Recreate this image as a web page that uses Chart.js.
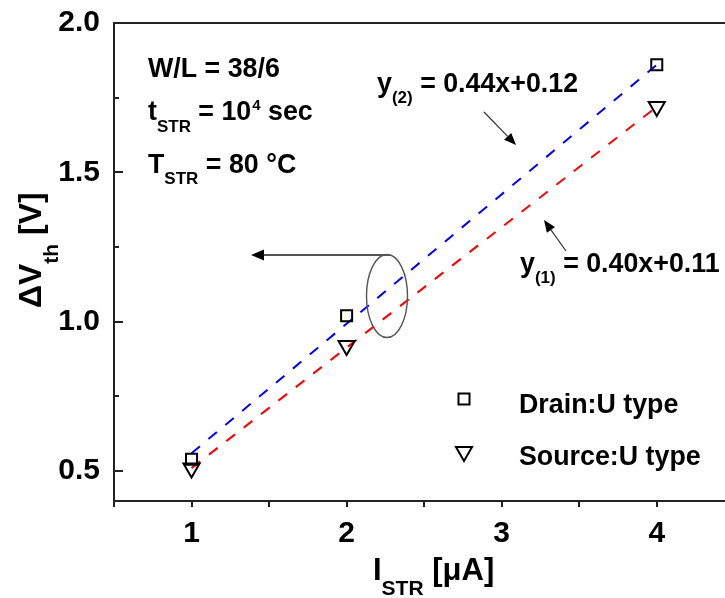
<!DOCTYPE html>
<html>
<head>
<meta charset="utf-8">
<script src="https://cdn.jsdelivr.net/npm/chart.js@4"></script>
<style>
  html, body { margin: 0; padding: 0; background: #fff; overflow: hidden; }
  #wrap { width: 725px; height: 598px; }
</style>
</head>
<body>
<div id="wrap"><canvas id="c" width="725" height="598"></canvas></div>
<script>
// ---- data ----
const xValues = [1, 2, 4];                 // I_STR [µA]
const drainValues = [0.54, 1.02, 1.86];    // ΔVth, Drain:U type
const sourceValues = [0.51, 0.92, 1.72];   // ΔVth, Source:U type
const fitX = [1, 4];
const drainFit = [0.56, 1.86];             // blue dashed fit y(2)
const sourceFit = [0.51, 1.72];            // red dashed fit y(1)
const xMajorTicks = [1, 2, 3, 4];
const xMinorTicks = [0.5, 1.5, 2.5, 3.5];
const yMajorTicks = [0.5, 1.0, 1.5, 2.0];
const yMinorTicks = [0.75, 1.25, 1.75];
const seriesNames = ['Drain:U type', 'Source:U type'];

const FF = "'Liberation Sans', Arial, Helvetica, sans-serif";
const AF = 26.8; // annotation font size
const pts = (xs, ys) => xs.map((x, i) => ({ x: x, y: ys[i] }));

function rich(ctx, x, y, runs) {
  let cx = x;
  for (const r of runs) {
    ctx.font = 'bold ' + r.size + 'px ' + FF;
    ctx.fillText(r.t, cx, y + (r.dy || 0));
    cx += ctx.measureText(r.t).width;
  }
  return cx;
}
function arrow(ctx, x1, y1, x2, y2, color, lw, hl, hw) {
  ctx.save();
  ctx.strokeStyle = color; ctx.lineWidth = lw;
  const a = Math.atan2(y2 - y1, x2 - x1);
  const bx = x2 - Math.cos(a) * hl, by = y2 - Math.sin(a) * hl;
  ctx.beginPath(); ctx.moveTo(x1, y1); ctx.lineTo(bx, by); ctx.stroke();
  ctx.fillStyle = '#000';
  ctx.beginPath();
  ctx.moveTo(x2, y2);
  ctx.lineTo(bx + Math.sin(a) * hw, by - Math.cos(a) * hw);
  ctx.lineTo(bx - Math.sin(a) * hw, by + Math.cos(a) * hw);
  ctx.closePath(); ctx.fill();
  ctx.restore();
}

const decor = {
  id: 'decor',
  afterDraw(chart) {
    const ctx = chart.ctx;
    const ca = chart.chartArea;
    const ys = chart.scales.y;
    ctx.save();
    // top frame line
    ctx.strokeStyle = '#222'; ctx.lineWidth = 2;
    ctx.beginPath(); ctx.moveTo(ca.left, ca.top); ctx.lineTo(ca.right, ca.top); ctx.stroke();
    // inward y ticks
    ctx.lineWidth = 2;
    yMajorTicks.forEach(v => {
      const p = Math.round(ys.getPixelForValue(v));
      ctx.beginPath(); ctx.moveTo(ca.left, p); ctx.lineTo(ca.left + 9, p); ctx.stroke();
    });
    yMinorTicks.forEach(v => {
      const p = Math.round(ys.getPixelForValue(v));
      ctx.beginPath(); ctx.moveTo(ca.left, p); ctx.lineTo(ca.left + 5, p); ctx.stroke();
    });

    ctx.fillStyle = '#000';
    ctx.textAlign = 'left';
    ctx.textBaseline = 'alphabetic';
    // condition annotations
    rich(ctx, 148, 77, [{ t: 'W/L = 38/6', size: AF }]);
    let e = rich(ctx, 148, 120, [{ t: 't', size: AF }, { t: 'STR', size: 17, dy: 12 }, { t: ' = 10', size: AF }]);
    e = rich(ctx, e + 1, 120, [{ t: '4', size: 15, dy: -10 }]);
    rich(ctx, e, 120, [{ t: ' sec', size: AF }]);
    rich(ctx, 148, 173, [{ t: 'T', size: AF }, { t: 'STR', size: 17, dy: 11 }, { t: ' = 80 \u00B0C', size: AF }]);

    // fit equations
    rich(ctx, 377, 92, [{ t: 'y', size: AF }, { t: '(2)', size: 17, dy: 11 }, { t: ' = 0.44x+0.12', size: AF }]);
    rich(ctx, 520, 272, [{ t: 'y', size: AF }, { t: '(1)', size: 17, dy: 11 }, { t: ' = 0.40x+0.11', size: AF }]);

    // arrows to the fit lines
    arrow(ctx, 484, 112, 516, 145, '#333', 1.2, 12, 5);
    arrow(ctx, 566, 251, 544, 220, '#333', 1.2, 12, 5);

    // ellipse + left arrow
    ctx.strokeStyle = '#555'; ctx.lineWidth = 1.4;
    ctx.beginPath(); ctx.ellipse(387, 296, 20.5, 41.5, 0, 0, Math.PI * 2); ctx.stroke();
    arrow(ctx, 390, 255, 251, 255, '#555', 1.8, 13, 5.5);

    // legend
    ctx.strokeStyle = '#000'; ctx.lineWidth = 2;
    ctx.strokeRect(458.5, 393.5, 11, 11);
    ctx.beginPath();
    ctx.moveTo(456, 447); ctx.lineTo(472, 447); ctx.lineTo(464, 461); ctx.closePath(); ctx.stroke();
    ctx.fillStyle = '#000';
    rich(ctx, 519, 413, [{ t: seriesNames[0], size: AF }]);
    rich(ctx, 519, 465, [{ t: seriesNames[1], size: AF }]);

    // x axis title
    rich(ctx, 373, 580, [{ t: 'I', size: 31 }, { t: 'STR', size: 21, dy: 15 }, { t: ' [\u03BCA]', size: 31 }]);
    // y axis title (rotated)
    ctx.save();
    ctx.translate(41, 308);
    ctx.rotate(-Math.PI / 2);
    rich(ctx, 0, 0, [{ t: '\u0394V', size: 32 }, { t: 'th', size: 21, dy: 17 }, { t: ' [V]', size: 32 }]);
    ctx.restore();
    ctx.restore();
  }
};

const tickFont = { family: FF, size: 30, weight: 'bold' };

new Chart(document.getElementById('c'), {
  type: 'scatter',
  data: {
    datasets: [
      { label: 'fit drain', type: 'line', data: pts(fitX, drainFit), borderColor: '#0000ff',
        borderWidth: 2, borderDash: [11, 11], pointRadius: 0, fill: false, order: 3 },
      { label: 'fit source', type: 'line', data: pts(fitX, sourceFit), borderColor: '#ff0000',
        borderWidth: 2, borderDash: [11, 11], pointRadius: 0, fill: false, order: 3 },
      { label: seriesNames[0], data: pts(xValues, drainValues), showLine: false, pointStyle: 'rect',
        pointRadius: 7.8, borderColor: '#000', backgroundColor: 'rgba(0,0,0,0)', borderWidth: 2, order: 1 },
      { label: seriesNames[1], data: pts(xValues, sourceValues), showLine: false, pointStyle: 'triangle',
        rotation: 180, pointRadius: 9.3, borderColor: '#000', backgroundColor: 'rgba(0,0,0,0)', borderWidth: 2, order: 1 }
    ]
  },
  options: {
    responsive: false,
    animation: false,
    devicePixelRatio: 1,
    layout: { autoPadding: false, padding: { top: 23, right: 0, left: 0, bottom: 0 } },
    plugins: { legend: { display: false }, tooltip: { enabled: false } },
    scales: {
      x: {
        type: 'linear', min: 0.5, max: 4.44,
        afterBuildTicks: s => { s.ticks = [...xMinorTicks, ...xMajorTicks].sort((a, b) => a - b).map(v => ({ value: v })); },
        afterFit: s => { s.height = 97; s.paddingLeft = 0; s.paddingRight = 0; },
        ticks: { callback: v => xMajorTicks.includes(v) ? String(v) : '', font: tickFont, color: '#000',
                 padding: 9, maxRotation: 0, autoSkip: false },
        grid: { display: true, drawOnChartArea: false, drawTicks: true, tickLength: 6, color: '#222', lineWidth: 2 },
        border: { display: true, color: '#222', width: 2 }
      },
      y: {
        type: 'linear', min: 0.4, max: 2.0,
        afterBuildTicks: s => { s.ticks = [...yMajorTicks, ...yMinorTicks].sort((a, b) => a - b).map(v => ({ value: v })); },
        afterFit: s => { s.width = 114; s.paddingTop = 0; s.paddingBottom = 0; },
        ticks: { callback: v => yMajorTicks.includes(v) ? v.toFixed(1) : '', font: tickFont, color: '#000',
                 padding: 14, autoSkip: false },
        grid: { display: false, drawTicks: false },
        border: { display: true, color: '#222', width: 2 }
      }
    }
  },
  plugins: [decor]
});
</script>
</body>
</html>
